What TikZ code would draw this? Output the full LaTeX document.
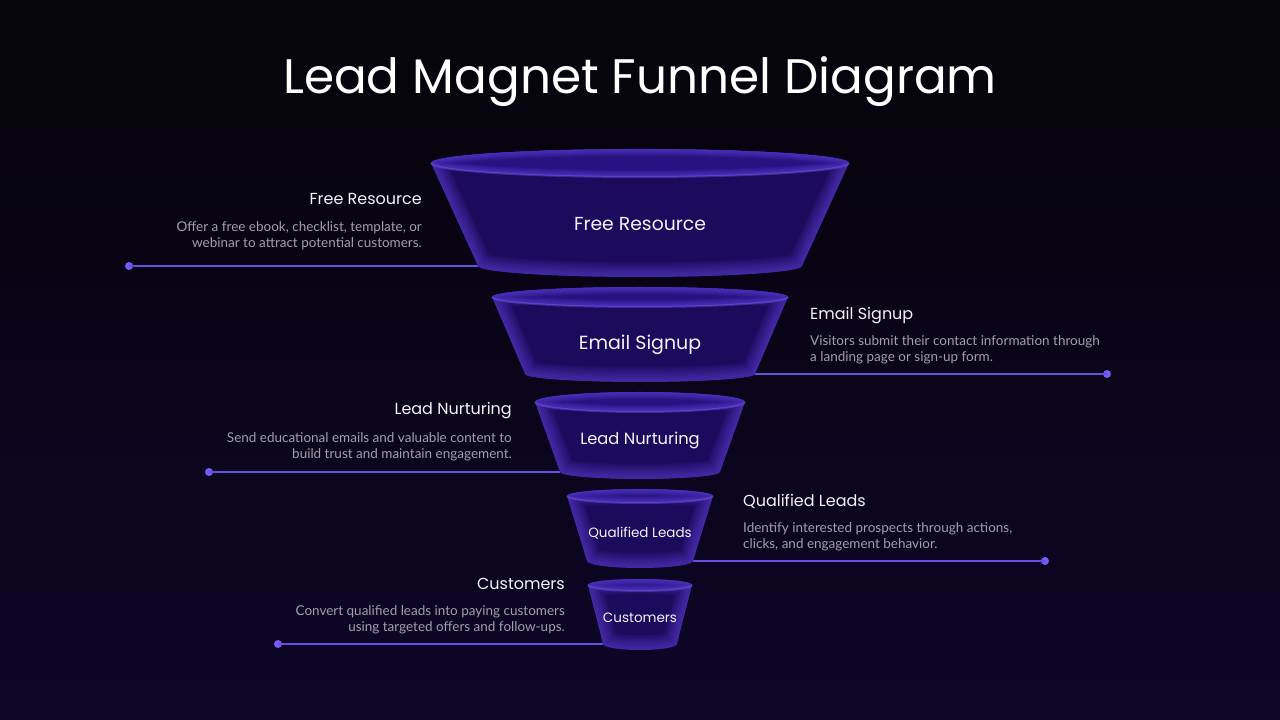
\documentclass[tikz,border=0pt]{standalone}
\usepackage{fontspec}
\setmainfont{Poppins}
\newfontfamily\bodyfont{Lato}

\definecolor{bgtop}{HTML}{050409}
\definecolor{bgbottom}{HTML}{0E0528}
\definecolor{funnelbase}{HTML}{1C0A5C}
\definecolor{funnelglow}{HTML}{6B4AEA}
\definecolor{rimfill}{HTML}{261280}
\definecolor{rimline}{HTML}{8468F4}
\definecolor{leadline}{HTML}{6A4CE4}
\definecolor{leaddot}{HTML}{7C58F4}
\definecolor{headwhite}{HTML}{F4F2F8}
\definecolor{desc}{HTML}{A29EAE}

\tikzset{
  leader/.style={draw=leadline, line width=1.2pt},
  dotnode/.style={circle, fill=leaddot, inner sep=0pt, minimum size=8pt},
  stagelabel/.style={text=headwhite, inner sep=0pt},
  sidehead/.style={text=headwhite, font=\fontsize{16}{18}\selectfont, inner sep=0pt},
  sidetext/.style={text=desc, font=\bodyfont\fontsize{13.5}{16}\selectfont, inner sep=0pt},
}

\begin{document}
\begin{tikzpicture}[x=1pt,y=1pt]
  % background
  \useasboundingbox (0,0) rectangle (1280,720);
  \shade[top color=bgtop, bottom color=bgbottom] (0,0) rectangle (1280,720);

  \node[text=white, font=\fontsize{48.5}{56}\selectfont, inner sep=0pt] (title) at (640,638)
    {Lead Magnet Funnel Diagram};

  % leader lines
  \node[dotnode] (dotfree) at (129,454) {};
  \coordinate (endfree) at (478,454);
  \draw[leader] (dotfree.center) -- (endfree);
  \node[dotnode] (dotemail) at (1107,346) {};
  \coordinate (endemail) at (755,346);
  \draw[leader] (dotemail.center) -- (endemail);
  \node[dotnode] (dotnurture) at (209,248) {};
  \coordinate (endnurture) at (560,248);
  \draw[leader] (dotnurture.center) -- (endnurture);
  \node[dotnode] (dotqual) at (1045,159) {};
  \coordinate (endqual) at (693,159);
  \draw[leader] (dotqual.center) -- (endqual);
  \node[dotnode] (dotcust) at (278,76) {};
  \coordinate (endcust) at (603,76);
  \draw[leader] (dotcust.center) -- (endcust);

  % funnel stages
  \foreach \ytop/\wtop/\rtop/\ybot/\wbot/\rbot in
    {557/209/14/454/162/11, 423/148/10/346/115/8, 318/105/10/248/80/7,
     224/73/7/159/53/7, 135/52/6/76/37/6}{
    \def\stagepath{({640-\wtop},\ytop) -- ({640-\wbot},\ybot)
      arc[start angle=180, end angle=360, x radius=\wbot, y radius=\rbot]
      -- ({640+\wtop},\ytop)
      arc[start angle=0, end angle=180, x radius=\wtop, y radius=\rtop] -- cycle}
    \def\rimpath{(640,\ytop) ellipse[x radius=\wtop, y radius=\rtop]}
    \fill[funnelbase] \stagepath;
    \begin{scope}
      \clip \stagepath;
      \foreach \w in {3,6,...,30}
        \draw[funnelglow, line width=\w pt, opacity=.07] \stagepath;
    \end{scope}
    % top rim
    \fill[rimfill] \rimpath;
    \begin{scope}
      \clip \rimpath;
      \foreach \w in {2,4,...,14}
        \draw[funnelglow, line width=\w pt, opacity=.1] \rimpath;
    \end{scope}
    \draw[rimline, line width=2pt, opacity=.35] ({640-\wtop},\ytop)
      arc[start angle=180, end angle=360, x radius=\wtop, y radius=\rtop];
  }

  \node[stagelabel, font=\fontsize{18.8}{20}\selectfont] (lblfree) at (640,496) {Free Resource};
  \node[stagelabel, font=\fontsize{19}{20}\selectfont] (lblemail) at (640,375) {Email Signup};
  \node[stagelabel, font=\fontsize{16.3}{18}\selectfont] (lblnurture) at (640,279) {Lead Nurturing};
  \node[stagelabel, font=\fontsize{13.5}{16}\selectfont] (lblqual) at (640,187) {Qualified Leads};
  \node[stagelabel, font=\fontsize{13.5}{16}\selectfont] (lblcust) at (640,102) {Customers};

  % side texts
  \node[sidehead, anchor=east] (headfree) at (422,521) {Free Resource};
  \node[sidetext, anchor=north east, align=right] (txtfree) at (422,499)
    {Offer a free ebook, checklist, template, or\\webinar to attract potential customers.};
  \node[sidehead, anchor=west] (heademail) at (810,404) {Email Signup};
  \node[sidetext, anchor=north west, align=left] (txtemail) at (810,385)
    {Visitors submit their contact information through\\a landing page or sign-up form.};
  \node[sidehead, anchor=east] (headnurture) at (512,309) {Lead Nurturing};
  \node[sidetext, anchor=north east, align=right] (txtnurture) at (512,288)
    {Send educational emails and valuable content to\\build trust and maintain engagement.};
  \node[sidehead, anchor=west] (headqual) at (743,219) {Qualified Leads};
  \node[sidetext, anchor=north west, align=left] (txtqual) at (743,198)
    {Identify interested prospects through actions,\\clicks, and engagement behavior.};
  \node[sidehead, anchor=east] (headcust) at (565,136) {Customers};
  \node[sidetext, anchor=north east, align=right] (txtcust) at (565,115)
    {Convert qualified leads into paying customers\\using targeted offers and follow-ups.};
\end{tikzpicture}
\end{document}
